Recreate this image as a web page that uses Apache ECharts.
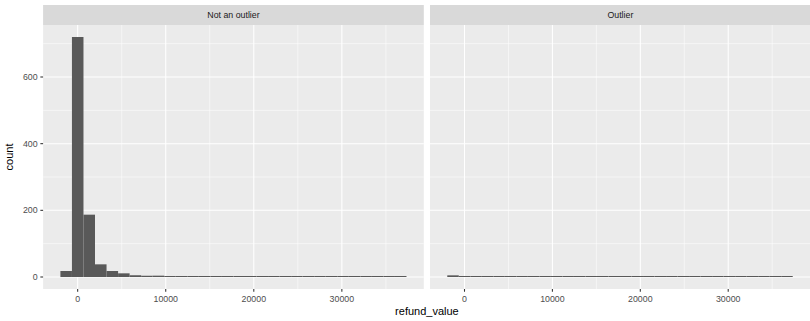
<!DOCTYPE html>
<html><head><meta charset="utf-8">
<script src="https://cdn.jsdelivr.net/npm/echarts@6/dist/echarts.min.js"></script>
<style>html,body{margin:0;padding:0;background:#fff}#c{width:810px;height:321px}</style>
</head><body><div id="c"></div>
<script>
// ---- data ----
const panelNames = ['Not an outlier', 'Outlier'];
const binStart = -1960;   // left edge of first bin
const binWidth = 1310;    // histogram bin width
const countsNotOutlier = [18, 720, 187, 38, 18, 11, 5, 4, 4, 0, 0, 0, 0, 0, 0, 0, 0, 0, 0, 0, 0, 0, 0, 0, 0, 0, 0, 0, 0, 1];
const countsOutlier    = [5, 0, 0, 0, 0, 0, 0, 0, 0, 0, 0, 0, 0, 0, 0, 0, 0, 0, 0, 0, 0, 0, 0, 0, 0, 0, 0, 0, 0, 0];
const xRange = [-3925, 39305];
const yRange = [-36, 756];
const xTickLabels = [0, 10000, 20000, 30000];
const xMinorBreaks = [5000, 15000, 25000, 35000];
const yTickLabels = [0, 200, 400, 600];
const yMinorBreaks = [100, 300, 500, 700];
const xTitle = 'refund_value';
const yTitle = 'count';

// ---- build ----
function binData(counts) {
  return counts.map((c, i) => [binStart + i * binWidth, binStart + (i + 1) * binWidth, c]);
}
const FONT = 'Liberation Sans, Arial, sans-serif';
const panelLeft = [43.1, 430];
const panelW = 380.7, panelTop = 25, panelH = 264;

const chart = echarts.init(document.getElementById('c'), null, {renderer: 'svg'});

function renderBar(params, api) {
  const p0 = api.coord([api.value(0), api.value(2)]);
  const p1 = api.coord([api.value(1), 0]);
  let y = p0[1], h = p1[1] - p0[1];
  if (h < 1) { y = Math.round(p1[1]) - 1; h = 1; }
  return {type: 'rect', shape: {x: p0[0], y: y, width: p1[0] - p0[0], height: h}, style: {fill: '#595959'}};
}

function makeDecor(panelIndex) {
  return function (params, api) {
    const children = [];
    const line = (a, b, w, c) => children.push({type: 'line',
      shape: {x1: a[0], y1: a[1], x2: b[0], y2: b[1]}, style: {stroke: c, lineWidth: w}});
    xMinorBreaks.forEach(v => line(api.coord([v, yRange[0]]), api.coord([v, yRange[1]]), 0.53, '#FFFFFF'));
    yMinorBreaks.forEach(v => line(api.coord([xRange[0], v]), api.coord([xRange[1], v]), 0.53, '#FFFFFF'));
    xTickLabels.forEach(v => line(api.coord([v, yRange[0]]), api.coord([v, yRange[1]]), 1.07, '#FFFFFF'));
    yTickLabels.forEach(v => line(api.coord([xRange[0], v]), api.coord([xRange[1], v]), 1.07, '#FFFFFF'));
    // axis ticks outside the panel
    xTickLabels.forEach(v => { const p = api.coord([v, yRange[0]]); line(p, [p[0], p[1] + 2.75], 1.07, '#333333'); });
    if (panelIndex === 0) {
      yTickLabels.forEach(v => { const p = api.coord([xRange[0], v]); line(p, [p[0] - 2.75, p[1]], 1.07, '#333333'); });
    }
    return {type: 'group', children: children};
  };
}

const grids = panelLeft.map(l => ({left: l, top: panelTop, width: panelW, height: panelH,
  show: true, backgroundColor: '#EBEBEB', borderWidth: 0, containLabel: false}));

const xAxes = [0, 1].map(i => ({
  type: 'value', gridIndex: i, min: xRange[0], max: xRange[1], splitNumber: 4,
  axisLine: {show: false},
  axisTick: {show: false},
  axisLabel: {color: '#4D4D4D', fontSize: 8.8, fontFamily: FONT, margin: 5.5,
    showMinLabel: false, showMaxLabel: false,
    formatter: v => xTickLabels.includes(v) ? String(v) : ''},
  splitLine: {show: false},
  minorSplitLine: {show: false}
}));

const yAxes = [0, 1].map(i => ({
  type: 'value', gridIndex: i, min: yRange[0], max: yRange[1], splitNumber: 4,
  name: i === 0 ? yTitle : '', nameLocation: 'middle', nameRotate: 90, nameGap: 29,
  nameTextStyle: {color: '#000', fontSize: 11, fontFamily: FONT},
  axisLine: {show: false},
  axisTick: {show: false},
  axisLabel: {show: i === 0, color: '#4D4D4D', fontSize: 8.8, fontFamily: FONT, margin: 5.5,
    showMinLabel: false, showMaxLabel: false,
    formatter: v => yTickLabels.includes(v) ? String(v) : ''},
  splitLine: {show: false},
  minorSplitLine: {show: false}
}));

const graphics = [];
panelNames.forEach((name, i) => {
  graphics.push({type: 'rect', left: panelLeft[i], top: 5, shape: {width: panelW, height: 20},
    style: {fill: '#D9D9D9'}, silent: true});
  graphics.push({type: 'text', x: panelLeft[i] + panelW / 2, y: 15,
    style: {text: name, fill: '#1A1A1A', fontSize: 8.8, fontFamily: FONT, textAlign: 'center', textVerticalAlign: 'middle'}});
});
graphics.push({type: 'text', x: (panelLeft[0] + panelLeft[1] + panelW) / 2, y: 311,
  style: {text: xTitle, fill: '#000', fontSize: 11, fontFamily: FONT, textAlign: 'center', textVerticalAlign: 'middle'}});

const series = [];
[0, 1].forEach(i => {
  series.push({type: 'custom', xAxisIndex: i, yAxisIndex: i, data: [[0, 0]], silent: true,
    renderItem: makeDecor(i), encode: {x: 0, y: 1}, clip: false, z: 1});
});
series.push({type: 'custom', name: panelNames[0], xAxisIndex: 0, yAxisIndex: 0, data: binData(countsNotOutlier),
  renderItem: renderBar, encode: {x: [0, 1], y: 2}, clip: true, z: 5});
series.push({type: 'custom', name: panelNames[1], xAxisIndex: 1, yAxisIndex: 1, data: binData(countsOutlier),
  renderItem: renderBar, encode: {x: [0, 1], y: 2}, clip: true, z: 5});

chart.setOption({
  animation: false,
  backgroundColor: '#FFFFFF',
  grid: grids,
  xAxis: xAxes,
  yAxis: yAxes,
  graphic: graphics,
  series: series
});
</script></body></html>
